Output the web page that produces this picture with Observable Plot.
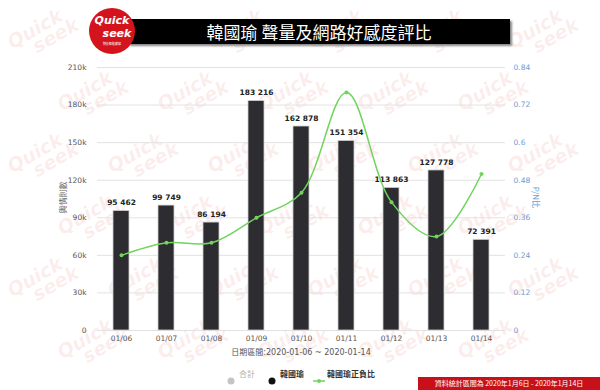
<!DOCTYPE html>
<html><head><meta charset="utf-8">
<script src="https://cdn.jsdelivr.net/npm/d3@7"></script>
<script src="https://cdn.jsdelivr.net/npm/@observablehq/plot@0.6"></script>
<style>
body{margin:0;background:#fff;}
#wrap{position:relative;width:600px;height:390px;overflow:hidden;font-family:"DejaVu Sans","Noto Sans CJK TC",sans-serif;background:#fff;}
.wm{position:absolute;color:rgba(228,70,70,0.10);font:italic bold 19px "DejaVu Sans",sans-serif;line-height:16px;transform:rotate(-30deg);white-space:pre;pointer-events:none;}
#chart{position:absolute;left:0;top:0;}
.abs{position:absolute;}
#logo{left:89px;top:8px;width:46px;height:46px;border-radius:50%;background:#d4141c;color:#fff;text-align:center;z-index:3;overflow:hidden;}
#titlebar{left:128px;top:19px;width:382px;height:25px;background:#000;box-shadow:2px 2px 2px #888;z-index:2;text-align:center;}
#titlebar span{color:#fff;font:17px "Noto Sans CJK TC",sans-serif;line-height:25px;}
.lg{font:bold 8px "Noto Sans CJK TC",sans-serif;color:#333;top:368px;}
</style></head><body><div id="wrap"></div>
<script>
const dates = ["01/06","01/07","01/08","01/09","01/10","01/11","01/12","01/13","01/14"];
const volume = [95462, 99749, 86194, 183216, 162878, 151354, 113863, 127778, 72391];
const pnRatio = [0.24, 0.28, 0.28, 0.36, 0.44, 0.76, 0.41, 0.30, 0.50];
const leftTicks = [0, 30000, 60000, 90000, 120000, 150000, 180000, 210000];
const rightTicks = [0, 0.12, 0.24, 0.36, 0.48, 0.6, 0.72, 0.84];
const titleText = "韓國瑜 聲量及網路好感度評比";
const leftLabel = "輿情則數";
const rightLabel = "P/N比";
const dateRange = "日期區間:2020-01-06 ~ 2020-01-14";
const legendNames = ["合計", "韓國瑜", "韓國瑜正負比"];
const footer = "資料統計區間為 2020年1月6日 - 2020年1月14日";

const wrap = document.getElementById("wrap");
// watermark decoration, kept inside the frame and clear of the logo
for (let r = 0; r < 6; r++) {
  for (let c = 0; c < 7; c++) {
    const x = 8 + c * 100 + (r % 2) * 50;
    const y = 17 + r * 62;
    if (x + 72 > 598 || y + 50 > 388) continue;
    if (x < 140 && x + 72 > 84 && y < 58) continue;
    const w = document.createElement("div");
    w.className = "wm";
    w.textContent = "Quick\n   seek";
    w.style.left = x + "px";
    w.style.top = y + "px";
    wrap.appendChild(w);
  }
}

const k = leftTicks[leftTicks.length - 1] / rightTicks[rightTicks.length - 1];
const data = dates.map((d, i) => ({date: d, v: volume[i], r: pnRatio[i]}));
const fmt = v => d3.format(",")(v).replace(/,/g, " ");

const chart = Plot.plot({
  width: 600, height: 390,
  marginTop: 67, marginBottom: 60, marginLeft: 97, marginRight: 95,
  style: {background: "transparent", fontFamily: "DejaVu Sans", fontSize: "7.5px"},
  x: {domain: dates, paddingInner: 0.65, paddingOuter: 0.325, axis: null},
  y: {domain: [0, leftTicks[leftTicks.length - 1]], axis: null},
  marks: [
    Plot.ruleY(leftTicks, {stroke: "#e2e2e2", strokeWidth: 1}),
    Plot.barY(data, {x: "date", y: "v", fill: "#2c2c31", stroke: "#d0d0d0", strokeWidth: 0.8}),
    Plot.text(data, {x: "date", y: "v", text: d => fmt(d.v), dy: -8, fontWeight: "bold", fill: "#222", fontSize: 7.5}),
    Plot.line(data, {x: "date", y: d => d.r * k, stroke: "#72d35e", strokeWidth: 1.5, curve: "catmull-rom"}),
    Plot.dot(data, {x: "date", y: d => d.r * k, fill: "#72d35e", r: 2}),
    Plot.axisY({ticks: leftTicks, tickFormat: v => v === 0 ? "0" : (v / 1000) + "k", tickSize: 0, tickPadding: 11, label: null, color: "#555"}),
    Plot.axisY({anchor: "right", ticks: rightTicks.map(v => v * k), tickFormat: v => String(rightTicks[leftTicks.indexOf(v)] ?? +(v / k).toFixed(2)), tickSize: 0, tickPadding: 8, label: null, color: "#6b9bd2"}),
    Plot.axisX({tickSize: 0, tickPadding: 5, label: null, color: "#555"})
  ]
});
chart.id = "chart";
wrap.appendChild(chart);

function add(html, cls, style) {
  const e = document.createElement("div");
  e.className = "abs " + (cls || "");
  e.innerHTML = html;
  Object.assign(e.style, style || {});
  wrap.appendChild(e);
  return e;
}
add('<div style="font:italic bold 11px DejaVu Sans;line-height:13px;margin-top:6px;">Quick<br><span style="padding-left:10px">seek</span></div><div style="font:3px Noto Sans CJK TC;line-height:4px;margin-top:2px;">快析智能數據</div>', "", {}).id = "logo";
add('<span>' + titleText + '</span>', "", {}).id = "titlebar";
add(leftLabel, "", {left: "44px", top: "192px", width: "36px", textAlign: "center", font: "8px 'Noto Sans CJK TC',sans-serif", color: "#666", transform: "rotate(-90deg)"});
add(rightLabel, "", {left: "518px", top: "192px", width: "36px", textAlign: "center", font: "8px 'Noto Sans CJK TC',sans-serif", color: "#6b9bd2", transform: "rotate(90deg)"});
add(dateRange, "", {left: "200px", top: "346px", width: "202px", textAlign: "center", font: "8px 'DejaVu Sans','Noto Sans CJK TC',sans-serif", color: "#555"});
// legend
add('<svg width="8" height="8"><circle cx="4" cy="4" r="3.5" fill="#c4c4c4"/></svg>', "", {left: "227px", top: "370px"});
add(legendNames[0], "lg", {left: "239px", color: "#b0b0b0", fontWeight: "normal"});
add('<svg width="8" height="8"><circle cx="4" cy="4" r="3.5" fill="#111"/></svg>', "", {left: "268px", top: "370px"});
add(legendNames[1], "lg", {left: "280px"});
add('<svg width="12" height="8"><line x1="0" y1="4" x2="12" y2="4" stroke="#72d35e" stroke-width="1.5"/><circle cx="6" cy="4" r="2" fill="#72d35e"/></svg>', "", {left: "313px", top: "370px"});
add(legendNames[2], "lg", {left: "327px"});
add(footer, "", {left: "418px", top: "377px", width: "182px", height: "13px", background: "#c8101a", color: "#fff", font: "7px 'Noto Sans CJK TC',serif", lineHeight: "13px", textAlign: "center"});
</script>
</body></html>
